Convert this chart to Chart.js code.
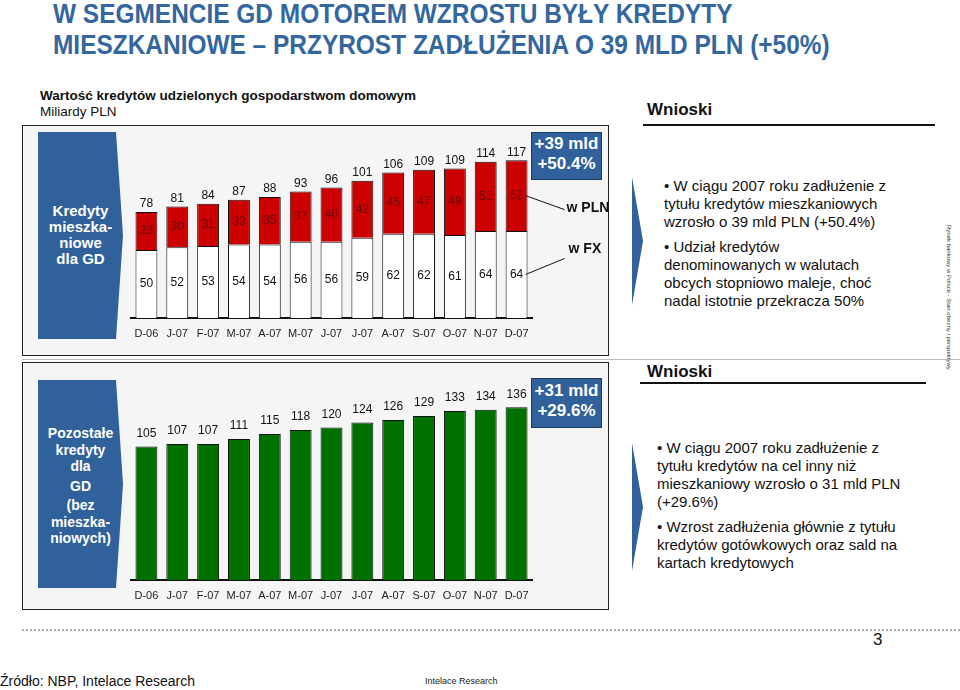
<!DOCTYPE html>
<html>
<head>
<meta charset="utf-8">
<script src="https://cdn.jsdelivr.net/npm/chart.js@4.4.1/dist/chart.umd.min.js"></script>
<style>
  body { margin: 0; width: 960px; height: 690px; background: #fff; font-family: "Liberation Sans", Arial, sans-serif; position: relative; overflow: hidden; }
  .abs { position: absolute; }
  .title { left: 53px; top: -2px; color: #34679e; font-weight: bold; font-size: 28px; line-height: 31px; white-space: nowrap; transform: scaleX(0.873); transform-origin: 0 0; }
  .panel { left: 22px; width: 585px; border: 1.5px solid #222; background: #f5f5f5; }
  .chev { left: 38px; width: 85px; background: #30619a; clip-path: polygon(0 0, 78px 0, 100% 50%, 78px 100%, 0 100%); color: #fff; font-weight: bold; text-align: center; }
  .callout { background: #30619a; border: 1px solid #1b3b63; color: #fff; font-weight: bold; font-size: 17px; line-height: 20px; text-align: center; }
  .wn { left: 647px; font-weight: bold; font-size: 17px; color: #111; }
  .bul { color: #111; font-size: 15px; line-height: 18px; white-space: nowrap; }
  .arrow { left: 632px; width: 11px; background: #30619a; clip-path: polygon(0 0, 100% 50%, 0 100%); }
  canvas { position: absolute; }
</style>
</head>
<body>
<div class="abs title">W SEGMENCIE GD MOTOREM WZROSTU BYŁY KREDYTY<br>MIESZKANIOWE – PRZYROST ZADŁUŻENIA O 39 MLD PLN (+50%)</div>
<div class="abs" style="left:40px; top:88px; font-size:13.5px; font-weight:bold; color:#111;">Wartość kredytów udzielonych gospodarstwom domowym</div>
<div class="abs" style="left:40px; top:104px; font-size:13.5px; color:#111;">Miliardy PLN</div>

<div class="abs panel" style="top:125px; height:229px;"></div>
<div class="abs" style="left:22px; top:359px; width:940px; height:1px; background:#bbb;"></div>
<div class="abs panel" style="top:362px; height:246px;"></div>

<div class="abs chev" style="top:132px; height:207px; font-size:15px; line-height:16px;">
  <div style="padding-top:71px;">Kredyty<br>mieszka-<br>niowe<br>dla GD</div>
</div>
<div class="abs chev" style="top:380px; height:208px; font-size:14px; line-height:16.5px;">
  <div style="padding-top:45px;">Pozostałe<br>kredyty<br>dla<div style="height:3px"></div>GD<div style="height:3px"></div>(bez<br>mieszka-<br>niowych)</div>
</div>

<canvas id="topChart" width="485" height="210" style="left:125px; top:135px;"></canvas>
<canvas id="bottomChart" width="485" height="222" style="left:125px; top:385px;"></canvas>

<div class="abs callout" style="left:531px; top:132px; width:69px; height:45px; padding-top:1px;">+39 mld<br>+50.4%</div>
<div class="abs callout" style="left:531px; top:378px; width:69px; height:46px; padding-top:2px;">+31 mld<br>+29.6%</div>

<div class="abs wn" style="top:100px;">Wnioski</div>
<div class="abs" style="left:643px; top:124px; width:292px; height:2px; background:#111;"></div>
<div class="abs arrow" style="top:177px; height:128px;"></div>
<div class="abs bul" style="left:664px; top:177px;">• W ciągu 2007 roku zadłużenie z<br>tytułu kredytów mieszkaniowych<br>wzrosło o 39 mld PLN (+50.4%)</div>
<div class="abs bul" style="left:664px; top:238px;">• Udział kredytów<br>denominowanych w walutach<br>obcych stopniowo maleje, choć<br>nadal istotnie przekracza 50%</div>

<div class="abs wn" style="top:362px;">Wnioski</div>
<div class="abs" style="left:640px; top:382px; width:286px; height:2px; background:#111;"></div>
<div class="abs arrow" style="top:443px; height:128px;"></div>
<div class="abs bul" style="left:657px; top:439px;">• W ciągu 2007 roku zadłużenie z<br>tytułu kredytów na cel inny niż<br>mieszkaniowy wzrosło o 31 mld PLN<br>(+29.6%)</div>
<div class="abs bul" style="left:657px; top:518px;">• Wzrost zadłużenia głównie z tytułu<br>kredytów gotówkowych oraz sald na<br>kartach kredytowych</div>

<div class="abs" style="left:946px; top:225px; writing-mode:vertical-rl; font-size:6px; color:#333;">Rynek bankowy w Polsce - Stan obecny i perspektywy</div>

<div class="abs" style="left:22px; top:629px; width:938px; border-top:2px dotted #aaa;"></div>
<div class="abs" style="left:873px; top:630px; font-size:17px; color:#111;">3</div>
<div class="abs" style="left:0px; top:673px; font-size:14px; color:#111;">Źródło: NBP, Intelace Research</div>
<div class="abs" style="left:425px; top:676px; font-size:9px; color:#222;">Intelace Research</div>

<script>
// Kredyty mieszkaniowe dla GD / pozostałe kredyty (mld PLN)
const months = ['D-06', 'J-07', 'F-07', 'M-07', 'A-07', 'M-07', 'J-07', 'J-07', 'A-07', 'S-07', 'O-07', 'N-07', 'D-07'];
const mortgageFx = [50, 52, 53, 54, 54, 56, 56, 59, 62, 62, 61, 64, 64];
const mortgagePln = [28, 30, 31, 33, 35, 37, 40, 42, 45, 47, 49, 51, 52];
const mortgageTotal = [78, 81, 84, 87, 88, 93, 96, 101, 106, 109, 109, 114, 117];
const otherLoans = [105, 107, 107, 111, 115, 118, 120, 124, 126, 129, 133, 134, 136];

const FONT = '"Liberation Sans", Arial, sans-serif';

// draws values on bars + leader lines for the last bar
const barLabels = {
    id: 'barLabels',
    afterDatasetsDraw(chart, args, opts) {
        const ctx = chart.ctx;
        ctx.save();
        ctx.font = '12px ' + FONT;
        ctx.textAlign = 'center';
        ctx.textBaseline = 'middle';
        const metas = chart.data.datasets.map((ds, i) => chart.getDatasetMeta(i));

        metas.forEach((meta, di) => {
            const ds = chart.data.datasets[di];
            if (!ds.inside) return;
            ctx.fillStyle = ds.inside;
            meta.data.forEach((bar, i) => {
                ctx.fillText(ds.data[i], bar.x, (bar.y + bar.base) / 2);
            });
        });

        const topMeta = metas[metas.length - 1];
        ctx.fillStyle = '#111';
        topMeta.data.forEach((bar, i) => {
            ctx.fillText(opts.totals[i], bar.x, bar.y - opts.gap);
        });

        if (opts.leaders) {
            ctx.strokeStyle = '#111';
            ctx.lineWidth = 1;
            ctx.textAlign = 'left';
            ctx.font = 'bold 14px ' + FONT;
            opts.leaders.forEach(l => {
                const bar = metas[l.dataset].data[metas[l.dataset].data.length - 1];
                const y0 = (bar.y + bar.base) / 2;
                ctx.beginPath();
                ctx.moveTo(bar.x + 9, y0);
                ctx.lineTo(bar.x + 48, y0 + l.dy);
                ctx.stroke();
                ctx.fillText(l.text, bar.x + l.tx, y0 + l.ty);
            });
        }
        ctx.restore();
    }
};

function xScale() {
    return {
        grid: { display: false, drawTicks: false },
        border: { color: '#111', width: 2 },
        ticks: { color: '#222', font: { size: 11, family: FONT }, padding: 9, maxRotation: 0, autoSkip: false },
        afterFit: (scale) => { scale.height = 27; }
    };
}

new Chart(document.getElementById('topChart'), {
    type: 'bar',
    data: {
        labels: months,
        datasets: [
            { label: 'w FX', data: mortgageFx, backgroundColor: '#ffffff', borderColor: '#111', borderWidth: 1, inside: '#111' },
            { label: 'w PLN', data: mortgagePln, backgroundColor: '#cc0000', borderColor: '#111', borderWidth: 1, inside: '#6a0a0a' }
        ]
    },
    options: {
        responsive: false,
        animation: false,
        devicePixelRatio: 1,
        layout: { padding: { left: 6, right: 78, top: 0, bottom: 0 } },
        datasets: { bar: { categoryPercentage: 1, barPercentage: 0.71 } },
        scales: {
            x: Object.assign(xScale(), { stacked: true }),
            y: { stacked: true, display: false, min: 0, max: 134.6 }
        },
        plugins: {
            legend: { display: false },
            tooltip: { enabled: false },
            barLabels: {
                totals: mortgageTotal,
                gap: 8,
                leaders: [
                    { dataset: 1, text: 'w PLN', dy: 14, tx: 50, ty: 13 },
                    { dataset: 0, text: 'w FX', dy: -16, tx: 52, ty: -25 }
                ]
            }
        }
    },
    plugins: [barLabels]
});

new Chart(document.getElementById('bottomChart'), {
    type: 'bar',
    data: {
        labels: months,
        datasets: [
            { label: 'Pozostałe', data: otherLoans, backgroundColor: '#007000', borderColor: '#111', borderWidth: 1 }
        ]
    },
    options: {
        responsive: false,
        animation: false,
        devicePixelRatio: 1,
        layout: { padding: { left: 6, right: 78, top: 0, bottom: 0 } },
        datasets: { bar: { categoryPercentage: 1, barPercentage: 0.71 } },
        scales: {
            x: xScale(),
            y: { display: false, min: 0, max: 153.5 }
        },
        plugins: {
            legend: { display: false },
            tooltip: { enabled: false },
            barLabels: { totals: otherLoans, gap: 13 }
        }
    },
    plugins: [barLabels]
});
</script>
</body>
</html>
